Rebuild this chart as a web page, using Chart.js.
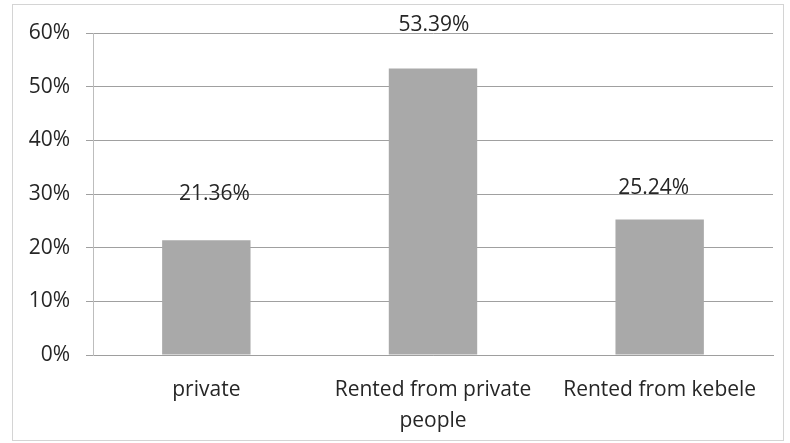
<!DOCTYPE html>
<html>
<head>
<meta charset="utf-8">
<script src="https://cdn.jsdelivr.net/npm/chart.js@4"></script>
<style>
  html, body { margin: 0; padding: 0; background: #fff; }
  canvas { display: block; }
</style>
</head>
<body>
<canvas id="graficoVivienda" width="790" height="443"></canvas>
<script>
const categorias = ['private', ['Rented from private', 'people'], 'Rented from kebele'];
const porcentajes = [21.36, 53.39, 25.24];
const marcasY = [0, 10, 20, 30, 40, 50, 60];

const colorBarra = '#a9a9a9';
const colorTexto = '#262626';
const fuente = { family: '"Open Sans", sans-serif', size: 21 };

// marco claro alrededor del grafico
const marco = {
    id: 'marco',
    beforeDraw(chart) {
        const c = chart.ctx;
        c.save();
        c.strokeStyle = '#d4d4d4';
        c.lineWidth = 1;
        c.strokeRect(12.5, 4.5, 771, 436);
        c.restore();
    }
};

// etiquetas de valor encima de cada barra
const etiquetas = {
    id: 'etiquetas',
    afterDatasetsDraw(chart, args, opts) {
        const c = chart.ctx;
        c.save();
        c.font = `${fuente.size}px ${fuente.family}`;
        c.fillStyle = colorTexto;
        c.textAlign = 'center';
        c.textBaseline = 'middle';
        chart.getDatasetMeta(0).data.forEach((barra, i) => {
            const v = chart.data.datasets[0].data[i];
            c.fillText(v.toFixed(2) + '%', barra.x + (opts.desvioX[i] || 0), barra.y - opts.elevacion[i]);
        });
        c.restore();
    }
};

new Chart(document.getElementById('graficoVivienda'), {
    type: 'bar',
    data: {
        labels: categorias,
        datasets: [{ data: porcentajes, backgroundColor: colorBarra, barPercentage: 0.65, categoryPercentage: 0.6 }]
    },
    options: {
        responsive: false,
        animation: false,
        layout: { padding: { top: 33, right: 17, left: 0, bottom: 0 } },
        plugins: {
            legend: { display: false },
            tooltip: { enabled: false },
            etiquetas: { elevacion: [46, 43, 32], desvioX: [8, 1, -6] }
        },
        scales: {
            x: {
                grid: { display: false },
                border: { display: true, color: '#9e9e9e' },
                ticks: { color: colorTexto, font: { ...fuente, lineHeight: 1.45 }, padding: 12, maxRotation: 0, autoSkip: false },
                afterFit(s) { s.height = 88; }
            },
            y: {
                min: 0,
                max: 60,
                afterBuildTicks(s) { s.ticks = marcasY.map(v => ({ value: v })); },
                grid: { color: '#a0a0a0', tickLength: 7 },
                border: { display: true, color: '#bdbdbd' },
                ticks: { color: colorTexto, font: fuente, padding: 16, callback: v => v + '%' },
                afterFit(s) { s.width = 93; }
            }
        }
    },
    plugins: [marco, etiquetas]
});
</script>
</body>
</html>
